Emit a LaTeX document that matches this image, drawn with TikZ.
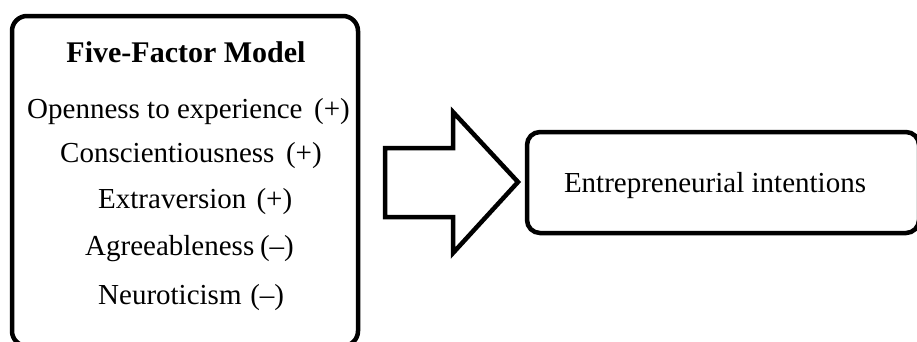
\documentclass[tikz,border=0pt]{standalone}
\usepackage{fontspec}
\setmainfont{Liberation Serif}
\begin{document}
\begin{tikzpicture}[x=1pt,y=-1pt,
  box/.style={draw=black, line width=4.5pt, rounded corners=15pt, inner sep=0pt},
  txt/.style={font=\fontsize{29}{34}\selectfont, inner sep=0pt, anchor=base west},
  blockarrow/.style={draw=black, line width=4.5pt, line join=miter, fill=white}]
\useasboundingbox (0,0) rectangle (917,341);
% left box
\node[box, minimum width=346pt, minimum height=330pt] (ffm) at (185,181) {};
\node[txt, font=\fontsize{30}{35}\selectfont\bfseries, anchor=base] (title) at (186,62) {Five-Factor Model};
\node[txt] (o) at (27,118) {Openness to experience\hspace{0.4em}(+)};
\node[txt] (c) at (60,162) {Conscientiousness\hspace{0.4em}(+)};
\node[txt] (e) at (98,208) {Extraversion\hspace{0.35em}(+)};
\node[txt] (a) at (85,255) {Agreeableness\hspace{0.2em}(--)};
\node[txt] (n) at (98,304) {Neuroticism\hspace{0.3em}(--)};
% right box
\node[box, rounded corners=13pt, minimum width=392pt, minimum height=101pt] (ei) at (723,182.5) {};
\node[txt, anchor=base] (eil) at (715,192) {Entrepreneurial intentions};
% block arrow
\coordinate (tip) at (518,182);
\draw[blockarrow] (385,148) -- (453,148) -- (453,112) -- (tip) -- (453,253) -- (453,217) -- (385,217) -- cycle;
\end{tikzpicture}
\end{document}
